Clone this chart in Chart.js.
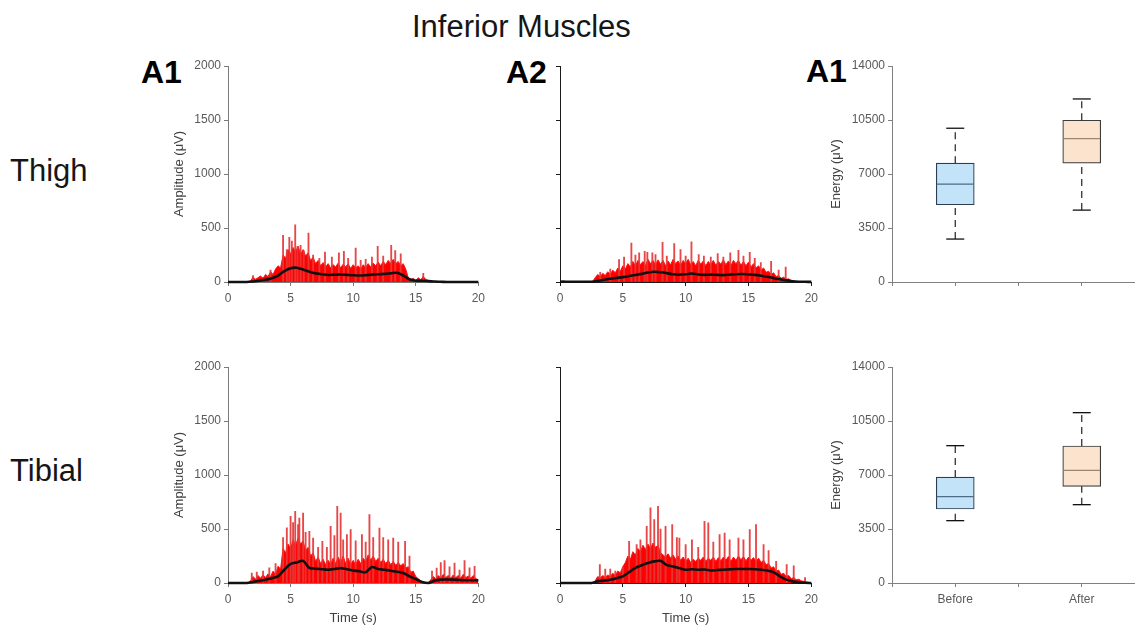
<!DOCTYPE html>
<html>
<head>
<meta charset="utf-8">
<script src="https://cdn.jsdelivr.net/npm/chart.js@4.4.1/dist/chart.umd.min.js"></script>
<style>
html,body{margin:0;padding:0;width:1135px;height:625px;overflow:hidden;background:#fff;font-family:'Liberation Sans',Arial,sans-serif;}
canvas{position:absolute;}
.t{position:absolute;white-space:nowrap;color:#161616;line-height:31px;font-size:31px;}
.b{font-weight:bold;color:#000;font-size:32px;line-height:32px;}
</style>
</head>
<body>
<div class="t" style="left:412px;top:11px">Inferior Muscles</div>
<div class="t b" style="left:141px;top:56px">A1</div>
<div class="t b" style="left:506px;top:56px">A2</div>
<div class="t b" style="left:806px;top:55px">A1</div>
<div class="t" style="left:10px;top:155px">Thigh</div>
<div class="t" style="left:10px;top:455px">Tibial</div>

<canvas id="c1" width="322" height="280" style="left:168px;top:40px"></canvas>
<canvas id="c2" width="283" height="280" style="left:540px;top:40px"></canvas>
<canvas id="c3" width="330" height="280" style="left:825px;top:40px"></canvas>
<canvas id="c4" width="322" height="287" style="left:168px;top:341px"></canvas>
<canvas id="c5" width="283" height="287" style="left:540px;top:341px"></canvas>
<canvas id="c6" width="330" height="287" style="left:825px;top:341px"></canvas>

<script>
// ---------- axis / tick settings ----------
const timeRange = [0, 20];
const timeTickStep = 5;
const ampRange = [0, 2000];
const ampTickStep = 500;
const energyRange = [0, 14000];
const energyTickStep = 3500;
const FILL_STEP = 0.2;   // s between samples of the dense red signal
const ENV_STEP = 0.5;    // s between samples of the black envelope
const boxCategories = ['Before', 'After'];

// ---------- Thigh A1 ----------
const thighA1Fill = [
  0,0,0,0,0,0,0,0,0,10,
  45,25,40,55,35,70,50,95,70,120,
  150,130,250,220,300,260,320,280,330,260,
  300,240,270,200,230,170,200,150,180,140,
  170,130,160,140,175,130,165,140,170,125,
  160,130,150,120,160,135,170,140,175,150,
  185,150,190,160,200,170,210,170,190,150,
  170,120,40,20,35,15,40,20,50,25,
  15,10,5,3,0,0,0,0,0,0,
  0,0,0,0,0,0,0,0,0,0,
  0
];
const thighA1Spikes = [
  [2.0,60],[3.4,110],[4.4,432],[4.7,300],[4.9,414],[5.1,380],[5.37,530],[5.55,330],[5.8,340],
  [6.05,290],[6.43,454],[6.8,250],[7.3,220],[7.75,278],[8.3,230],[8.86,269],[9.26,284],[9.6,220],
  [10.2,315],[10.6,200],[11.0,210],[11.5,230],[11.96,330],[12.4,240],[13.04,340],[13.36,290],
  [13.8,260],[15.6,80]
];
const thighA1Env = [
  0,0,0,0,5,12,20,35,60,100,
  128,132,115,95,80,72,65,68,70,66,
  62,60,63,68,72,75,80,85,60,25,
  12,10,8,4,2,0,0,0,0,0,
  0
];

// ---------- Thigh A2 ----------
const thighA2Fill = [
  0,0,0,0,0,0,0,0,0,0,
  0,0,0,5,40,70,50,80,60,95,
  70,110,85,130,100,150,120,170,140,190,
  150,200,160,190,150,210,170,200,160,205,
  165,200,150,195,160,210,170,195,155,200,
  170,210,160,190,150,200,165,195,150,190,
  160,200,155,190,165,205,160,195,150,200,
  170,200,155,190,150,185,140,170,130,150,
  110,130,90,100,70,85,50,60,35,45,
  25,30,10,5,0,0,0,0,0,0,
  0
];
const thighA2Spikes = [
  [3.2,90],[4.0,120],[4.7,207],[5.1,230],[5.68,361],[6.0,250],[6.3,270],[6.74,284],[6.95,275],
  [7.35,270],[7.6,255],[8.16,367],[8.5,240],[9.09,355],[9.59,300],[10.0,240],[10.46,373],
  [11.04,255],[11.45,240],[12.0,230],[12.55,262],[13.0,230],[13.55,270],[14.2,293],[14.6,240],
  [15.1,275],[15.5,220],[15.98,180],[16.8,191],[17.4,110],[17.96,139]
];
const thighA2Env = [
  3,3,2,2,2,3,10,20,30,38,
  45,55,65,75,88,95,90,82,72,68,
  72,78,70,66,68,66,64,68,72,74,
  70,66,58,48,36,25,15,7,3,2,
  1
];

// ---------- Tibial A1 ----------
const tibialA1Fill = [
  0,0,0,0,0,0,0,0,0,20,
  60,35,70,45,75,50,85,60,110,80,
  155,130,320,280,360,320,400,350,415,360,
  390,300,330,250,280,200,240,180,220,170,
  210,175,230,180,240,190,250,180,230,170,
  210,170,220,180,230,200,260,210,250,200,
  230,190,220,180,210,170,200,165,190,160,
  180,140,150,100,110,60,40,20,10,5,
  0,30,60,40,70,45,80,50,70,45,
  75,50,70,45,80,50,65,45,70,40,
  30
];
const tibialA1Spikes = [
  [1.9,93],[2.3,100],[2.8,110],[3.3,140],[3.8,180],[4.4,420],[4.7,510],[5.0,617],[5.2,560],
  [5.37,664],[5.6,540],[5.7,602],[6.0,648],[6.2,470],[6.5,478],[6.8,417],[7.2,330],[7.54,386],
  [7.9,330],[8.2,525],[8.5,440],[8.73,710],[9.0,648],[9.2,400],[9.5,448],[9.8,494],[10.2,390],
  [10.7,448],[11.0,380],[11.3,633],[11.6,420],[12.1,509],[12.4,420],[12.8,400],[13.2,417],
  [13.6,380],[14.15,386],[14.5,250],[16.3,110],[16.67,139],[17.0,190],[17.3,207],[17.7,150],
  [18.1,185],[18.5,120],[18.9,207],[19.3,140],[19.7,154]
];
const tibialA1Env = [
  0,0,0,0,10,20,31,45,62,123,
  176,191,205,140,133,128,123,130,138,128,
  117,108,100,148,130,122,114,104,93,62,
  37,9,0,22,31,32,31,28,25,25,
  25
];

// ---------- Tibial A2 ----------
const tibialA2Fill = [
  0,0,0,0,0,0,0,0,0,0,
  0,0,0,0,20,60,45,70,50,75,
  60,90,70,110,95,150,190,250,220,290,
  260,320,290,350,310,360,320,370,330,350,
  280,260,240,270,230,260,220,250,210,240,
  200,230,190,220,200,230,210,240,200,230,
  210,240,200,235,205,240,210,245,200,240,
  210,250,215,245,205,240,210,235,200,230,
  190,210,170,180,140,150,110,120,80,90,
  60,70,40,50,30,35,20,15,10,5,
  0
];
const tibialA2Spikes = [
  [3.17,170],[3.6,130],[4.0,130],[4.4,110],[5.0,150],[5.5,386],[6.1,355],[6.4,400],[6.9,525],
  [7.2,695],[7.5,587],[7.8,710],[8.0,500],[8.4,525],[8.93,540],[9.3,420],[9.5,417],[10.0,355],
  [10.5,400],[11.0,330],[11.5,571],[11.8,556],[12.2,380],[12.7,448],[13.1,463],[13.5,400],
  [14.2,417],[14.6,400],[15.1,494],[15.6,540],[16.2,355],[16.6,300],[17.2,200],[18.04,170],
  [18.6,160],[19.5,50]
];
const tibialA2Env = [
  0,0,0,0,0,0,15,22,31,45,
  62,100,139,165,185,200,205,165,154,138,
  123,128,123,125,117,120,123,126,130,130,
  130,128,123,115,100,62,31,15,6,2,
  0
];

// ---------- Box plots: [min, Q1, median, Q3, max] per category ----------
const thighEnergyBefore = [2783, 5005, 6342, 7701, 9966];
const thighEnergyAfter  = [4659, 7701, 9297, 10484, 11864];
const tibialEnergyBefore = [4040, 4796, 5596, 6870, 8901];
const tibialEnergyAfter  = [5077, 6265, 7302, 8880, 11040];

const boxFill   = ['#c3e3f8', '#fce3cd'];
const boxBorder = ['#2c3f52', '#3c3c3c'];
const boxMedian = ['#4c6c88', '#9c8574'];

// ---------- drawing ----------
const FONT = "'Liberation Sans', Arial, sans-serif";
Chart.defaults.font.family = FONT;
const TICK_COLOR = '#595959';
const TITLE_COLOR = '#404040';

function emgChart(id, fill, spikes, env, cfg) {
  const fillPts = fill.map((v, i) => ({x: Math.round(i * FILL_STEP * 100) / 100, y: v}));
  const envPts = env.map((v, i) => ({x: i * ENV_STEP, y: v}));
  const spikePts = spikes.map(p => ({x: p[0], y: p[1]}));
  new Chart(document.getElementById(id), {
    type: 'line',
    data: {datasets: [
      {type: 'line', data: envPts, borderColor: '#111', borderWidth: 2.6, pointRadius: 0,
       tension: 0.3, fill: false, order: 0, clip: 6},
      {type: 'bar', data: spikePts, backgroundColor: 'rgba(230,55,55,0.92)', barThickness: 1.2,
       order: 1},
      {type: 'line', data: fillPts, borderColor: '#ff1414', borderWidth: 1, backgroundColor: '#ff0000',
       pointRadius: 0, tension: 0, fill: 'origin', order: 2}
    ]},
    options: {
      responsive: false, animation: false, events: [],
      layout: {padding: cfg.pad, autoPadding: false},
      plugins: {legend: {display: false}, tooltip: {enabled: false}},
      scales: {
        x: {
          type: 'linear', min: timeRange[0], max: timeRange[1], offset: false,
          ticks: {stepSize: timeTickStep, color: TICK_COLOR, font: {size: 12}, padding: 5,
                  maxRotation: 0, callback: v => String(v)},
          grid: {drawOnChartArea: false, drawTicks: true, tickLength: 4, color: cfg.axisColor, offset: false},
          border: {display: true, color: cfg.axisColor, width: 1},
          title: {display: cfg.xTitle, text: 'Time (s)', color: TITLE_COLOR, font: {size: 13},
                  padding: {top: 0, bottom: 2}},
          afterFit: s => { s.height = cfg.xH; }
        },
        y: {
          type: 'linear', min: ampRange[0], max: ampRange[1],
          ticks: {stepSize: ampTickStep, display: cfg.yLabels, color: TICK_COLOR, font: {size: 12},
                  padding: 3, callback: v => String(v)},
          grid: {drawOnChartArea: false, drawTicks: true, tickLength: 4, color: cfg.axisColor},
          border: {display: true, color: cfg.axisColor, width: 1},
          title: {display: cfg.yLabels, text: 'Amplitude (μV)', color: TITLE_COLOR, font: {size: 13}},
          afterFit: s => { s.width = cfg.yW; }
        }
      }
    }
  });
}

function boxChart(id, stats, cfg) {
  const xs = boxCategories.map((c, i) => i + 0.5);
  const boxes = stats.map((s, i) => ({x: xs[i], y: [s[1], s[3]]}));
  const whiskers = [];
  stats.forEach((s, i) => {
    whiskers.push({x: xs[i], y: s[0]}, {x: xs[i], y: s[1]}, {x: xs[i], y: null},
                  {x: xs[i], y: s[3]}, {x: xs[i], y: s[4]}, {x: xs[i], y: null});
  });
  const caps = [];
  stats.forEach((s, i) => { caps.push({x: xs[i], y: s[0]}, {x: xs[i], y: s[4]}); });
  const medians = stats.map((s, i) => ({x: xs[i], y: s[2]}));
  new Chart(document.getElementById(id), {
    type: 'line',
    data: {datasets: [
      {type: 'line', data: medians, showLine: false, pointStyle: 'line', pointRadius: 18.5,
       pointBorderColor: boxMedian, pointBorderWidth: 1.3, order: 0},
      {type: 'line', data: caps, showLine: false, pointStyle: 'line', pointRadius: 9,
       pointBorderColor: '#111', pointBorderWidth: 1.3, order: 1},
      {type: 'line', data: whiskers, borderColor: '#222', borderWidth: 1.2, borderDash: [7, 5],
       pointRadius: 0, spanGaps: false, fill: false, order: 2},
      {type: 'bar', data: boxes, backgroundColor: boxFill, borderColor: boxBorder, borderWidth: 1.2,
       borderSkipped: false, barThickness: 38, order: 3}
    ]},
    options: {
      responsive: false, animation: false, events: [],
      layout: {padding: cfg.pad, autoPadding: false},
      plugins: {legend: {display: false}, tooltip: {enabled: false}},
      scales: {
        x: {
          type: 'linear', min: 0, max: boxCategories.length, offset: false,
          ticks: {stepSize: 0.5, color: TICK_COLOR, font: {size: 12}, padding: 5, maxRotation: 0,
                  autoSkip: false,
                  callback: v => {
                    if (!cfg.xLabels) return '';
                    const i = Math.floor(v);
                    return (Math.abs(v - i - 0.5) < 1e-6 && i < boxCategories.length) ? boxCategories[i] : '';
                  }},
          grid: {drawOnChartArea: false, drawTicks: true, tickLength: 4, color: '#808080', offset: false},
          border: {display: true, color: '#808080', width: 1},
          afterFit: s => { s.height = cfg.xH; }
        },
        y: {
          type: 'linear', min: energyRange[0], max: energyRange[1],
          ticks: {stepSize: energyTickStep, color: TICK_COLOR, font: {size: 12}, padding: 3,
                  callback: v => String(v)},
          grid: {drawOnChartArea: false, drawTicks: true, tickLength: 4, color: '#808080'},
          border: {display: true, color: '#808080', width: 1},
          title: {display: true, text: 'Energy (μV)', color: TITLE_COLOR, font: {size: 13}},
          afterFit: s => { s.width = cfg.yW; }
        }
      }
    }
  });
}

const GRAY = '#7a7a7a';
const BLACK = '#1a1a1a';
const padTop = {left: 0, right: 10, top: 26, bottom: 8};
const padBottom = {left: 0, right: 10, top: 26, bottom: 0};

emgChart('c1', thighA1Fill, thighA1Spikes, thighA1Env,
  {pad: padTop, yW: 60, xH: 30, yLabels: true, xTitle: false, axisColor: GRAY});
emgChart('c2', thighA2Fill, thighA2Spikes, thighA2Env,
  {pad: padTop, yW: 20, xH: 30, yLabels: false, xTitle: false, axisColor: BLACK});
boxChart('c3', [thighEnergyBefore, thighEnergyAfter],
  {pad: padTop, yW: 67, xH: 30, xLabels: false});
emgChart('c4', tibialA1Fill, tibialA1Spikes, tibialA1Env,
  {pad: padBottom, yW: 60, xH: 45, yLabels: true, xTitle: true, axisColor: GRAY});
emgChart('c5', tibialA2Fill, tibialA2Spikes, tibialA2Env,
  {pad: padBottom, yW: 20, xH: 45, yLabels: false, xTitle: true, axisColor: BLACK});
boxChart('c6', [tibialEnergyBefore, tibialEnergyAfter],
  {pad: padBottom, yW: 67, xH: 45, xLabels: true});
</script>
</body>
</html>
